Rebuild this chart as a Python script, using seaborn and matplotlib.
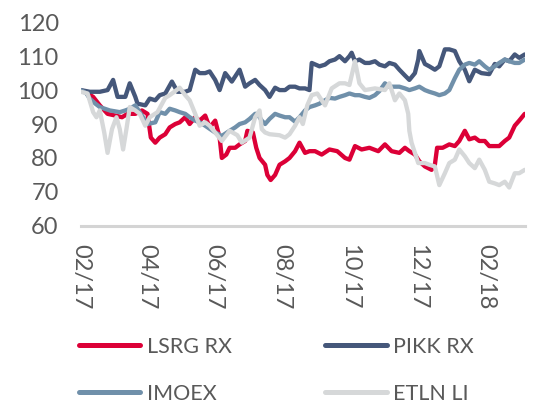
import matplotlib
matplotlib.use("Agg")
import matplotlib.pyplot as plt
import matplotlib.dates as mdates
from matplotlib.lines import Line2D
import seaborn as sns
import pandas as pd

# ---------------- data ----------------
lsrg_dates = ["2017-02-01","2017-02-07","2017-02-12","2017-02-18","2017-02-25","2017-03-04","2017-03-10",
              "2017-03-15","2017-03-22","2017-03-28","2017-04-02","2017-04-05","2017-04-09","2017-04-13",
              "2017-04-18","2017-04-22","2017-04-27","2017-05-01","2017-05-06","2017-05-10","2017-05-15",
              "2017-05-19","2017-05-24","2017-05-28","2017-06-02","2017-06-06","2017-06-08","2017-06-12",
              "2017-06-15","2017-06-20","2017-06-24","2017-06-29","2017-07-01","2017-07-06","2017-07-09",
              "2017-07-12","2017-07-17","2017-07-19","2017-07-22","2017-07-26","2017-07-30","2017-08-04",
              "2017-08-08","2017-08-13","2017-08-17","2017-08-22","2017-08-26","2017-08-31","2017-09-06",
              "2017-09-13","2017-09-20","2017-09-27","2017-10-01","2017-10-06","2017-10-12","2017-10-19",
              "2017-10-27","2017-11-02","2017-11-08","2017-11-15","2017-11-20","2017-11-24","2017-11-29",
              "2017-12-03","2017-12-08","2017-12-14","2017-12-17","2017-12-19","2017-12-24","2017-12-30",
              "2018-01-04","2018-01-08","2018-01-13","2018-01-17","2018-01-22","2018-01-26","2018-01-31",
              "2018-02-04","2018-02-09","2018-02-13","2018-02-18","2018-02-22","2018-02-27","2018-03-03",
              "2018-03-08"]
lsrg_vals = [100,99,98,95.5,93,92.5,92,93,93,94,93,86,84.5,86,87,89,90,90.5,92,90,92,91,92.5,89,91,86,80,81,
             83,83,84,85,88,87.5,83,80,78,75,73.5,75,78,79,80,82,84.5,81.5,82,82,81,82.5,82,80,79.5,83.5,82.5,
             83,82,84,82,81.5,83,82,81,79,77.5,76.5,78,83,83,84,83.5,85,88,85.5,86,85,85,83.5,83.5,83.5,85,86,
             89.5,91,93]

pikk_dates = ["2017-02-01","2017-02-09","2017-02-18","2017-02-25","2017-03-02","2017-03-06","2017-03-13",
              "2017-03-17","2017-03-22","2017-03-24","2017-03-31","2017-04-04","2017-04-09","2017-04-13",
              "2017-04-18","2017-04-24","2017-04-29","2017-05-06","2017-05-10","2017-05-15","2017-05-19",
              "2017-05-24","2017-05-28","2017-06-02","2017-06-06","2017-06-11","2017-06-17","2017-06-24",
              "2017-06-29","2017-07-03","2017-07-08","2017-07-12","2017-07-17","2017-07-21","2017-07-26",
              "2017-07-30","2017-08-04","2017-08-08","2017-08-13","2017-08-17","2017-08-22","2017-08-26",
              "2017-08-28","2017-09-04","2017-09-09","2017-09-13","2017-09-18","2017-09-22","2017-09-27",
              "2017-10-01","2017-10-03","2017-10-06","2017-10-10","2017-10-15","2017-10-19","2017-10-24",
              "2017-10-28","2017-11-02","2017-11-06","2017-11-11","2017-11-15","2017-11-20","2017-11-24",
              "2017-11-29","2017-12-02","2017-12-03","2017-12-08","2017-12-12","2017-12-17","2017-12-21",
              "2017-12-26","2017-12-30","2018-01-04","2018-01-08","2018-01-13","2018-01-17","2018-01-22",
              "2018-01-28","2018-02-04","2018-02-09","2018-02-13","2018-02-18","2018-02-22","2018-02-27",
              "2018-03-03","2018-03-08"]
pikk_vals = [100,99.5,99.5,100,103,98,98,102,98,96,95.5,97.5,97,98.5,99,102.5,99.5,99.5,100,106,105,105,105.5,
             103,100,105,102.5,106,101,102,103,101.5,100,98,100.7,100,100,101,101,100.5,100.5,100,108,107,107.5,
             108.5,109,110,108.5,110,111,108.5,109,108,108,108.5,107.5,107,108,107.5,106,104.3,103,105,109,111.5,
             107.7,107,106,107,112,112,111.5,108.5,106,102.6,106,105,104.7,107.7,107,109,108.5,110.5,109.5,110.5]

imoex_dates = ["2017-02-01","2017-02-06","2017-02-09","2017-02-14","2017-02-18","2017-02-27","2017-03-08",
               "2017-03-13","2017-03-17","2017-03-22","2017-03-26","2017-03-31","2017-04-02","2017-04-09",
               "2017-04-13","2017-04-18","2017-04-22","2017-04-27","2017-05-01","2017-05-06","2017-05-10",
               "2017-05-15","2017-05-19","2017-05-24","2017-05-28","2017-06-02","2017-06-08","2017-06-15",
               "2017-06-20","2017-06-24","2017-06-29","2017-07-03","2017-07-08","2017-07-10","2017-07-14",
               "2017-07-17","2017-07-21","2017-07-26","2017-07-30","2017-08-04","2017-08-08","2017-08-13",
               "2017-08-17","2017-08-22","2017-08-26","2017-08-31","2017-09-04","2017-09-09","2017-09-13",
               "2017-09-18","2017-09-22","2017-09-27","2017-10-01","2017-10-06","2017-10-10","2017-10-15",
               "2017-10-19","2017-10-24","2017-10-28","2017-11-02","2017-11-06","2017-11-11","2017-11-15",
               "2017-11-20","2017-11-24","2017-11-29","2017-12-03","2017-12-08","2017-12-12","2017-12-17",
               "2017-12-21","2017-12-26","2017-12-30","2018-01-04","2018-01-08","2018-01-13","2018-01-17",
               "2018-01-22","2018-01-26","2018-01-31","2018-02-04","2018-02-09","2018-02-13","2018-02-18",
               "2018-02-22","2018-02-27","2018-03-03","2018-03-08"]
imoex_vals = [100,99,97.5,96,95,94,93.5,94,94.5,95.5,93.5,91,90,90.5,93.5,93,94.5,94,93.5,93,92,91,90.5,89.5,
              88.6,87.5,86.5,88,89,90,90.5,91.5,93,93,91,90,91.5,93,92.5,92,92,90.7,92,94,95,95.5,96,97,97.7,
              97.5,98,98.5,99,98.5,98.5,98,97.7,98.5,99.7,102,101,101,101,100.5,100,100.5,101,100,99.5,99,98.5,
              99,100,103.5,106,107.5,108,107.5,108.5,107,106,107,108,109,108.5,108,108,109]

etln_dates = ["2017-02-01","2017-02-07","2017-02-12","2017-02-15","2017-02-18","2017-02-22","2017-02-25",
              "2017-03-01","2017-03-05","2017-03-08","2017-03-11","2017-03-14","2017-03-17","2017-03-22",
              "2017-03-26","2017-03-31","2017-04-04","2017-04-11","2017-04-18","2017-04-22","2017-04-27",
              "2017-05-01","2017-05-06","2017-05-10","2017-05-15","2017-05-19","2017-05-24","2017-05-28",
              "2017-06-02","2017-06-08","2017-06-15","2017-06-22","2017-06-26","2017-07-03","2017-07-08",
              "2017-07-12","2017-07-14","2017-07-17","2017-07-21","2017-07-30","2017-08-04","2017-08-08",
              "2017-08-13","2017-08-17","2017-08-20","2017-08-24","2017-08-28","2017-09-02","2017-09-09",
              "2017-09-15","2017-09-22","2017-09-27","2017-10-01","2017-10-06","2017-10-10","2017-10-15",
              "2017-10-24","2017-11-02","2017-11-06","2017-11-11","2017-11-15","2017-11-20","2017-11-23",
              "2017-11-24","2017-11-26","2017-12-02","2017-12-08","2017-12-12","2017-12-17","2017-12-21",
              "2017-12-26","2017-12-30","2018-01-04","2018-01-08","2018-01-13","2018-01-17","2018-01-22",
              "2018-01-26","2018-01-31","2018-02-04","2018-02-09","2018-02-13","2018-02-18","2018-02-22",
              "2018-02-27","2018-03-03","2018-03-08"]
etln_vals = [99.5,99,93.5,92,94,87.5,81.5,88.5,92,88.5,82.5,88.5,95,94,93,89.5,92,93.5,97.7,98.5,99.7,100.7,
             98.5,97,93,89.5,90.5,89.5,87.5,85,88,86.7,84.5,86,92,94,88.5,87.5,87,86.7,86,87,89.5,92,90,95.5,
             98.5,99,95.5,100.5,102,102,101.5,108.5,102,100,100.5,100,102,97,99,97,93,88,84.5,78.5,78.5,78,
             77.5,72,75.5,78.5,79.5,82.5,80.5,78.5,77,79.5,76.5,73,72.5,72,73,71.3,75.5,75.5,76.5]

series_names = ["LSRG RX", "PIKK RX", "IMOEX", "ETLN LI"]
series_colors = ["#DC0037", "#45577A", "#7090AA", "#D6D8D9"]
y_ticks = [60, 70, 80, 90, 100, 110, 120]
x_ticks = ["2017-02-01", "2017-04-01", "2017-06-01", "2017-08-01",
           "2017-10-01", "2017-12-01", "2018-02-01"]

# ---------------- build long table ----------------
frames = []
for name, d, v in zip(series_names,
                      [lsrg_dates, pikk_dates, imoex_dates, etln_dates],
                      [lsrg_vals, pikk_vals, imoex_vals, etln_vals]):
    frames.append(pd.DataFrame({"date": pd.to_datetime(d), "value": v, "series": name}))
df = pd.concat(frames, ignore_index=True)

# ---------------- style ----------------
sns.set_theme(style="white")
plt.rcParams["font.family"] = ["Lato", "DejaVu Sans"]
text_color = "#595959"

fig = plt.figure(figsize=(5.36, 4.19), dpi=100)
ax = fig.add_axes([0.151, 0.461, 0.828, 0.486])

palette = dict(zip(series_names, series_colors))
sns.lineplot(data=df, x="date", y="value", hue="series", hue_order=series_names,
             palette=palette, linewidth=3.1, ax=ax, legend=False, estimator=None,
             solid_capstyle="round", solid_joinstyle="round")

ax.set_ylim(60, 120)
ax.set_yticks(y_ticks)
ax.set_xlim(pd.Timestamp("2017-02-01"), pd.Timestamp("2018-03-08"))
ax.set_xticks(pd.to_datetime(x_ticks))
ax.xaxis.set_major_formatter(mdates.DateFormatter("%m/%y"))
ax.set_xlabel("")
ax.set_ylabel("")

for s in ["top", "right", "left"]:
    ax.spines[s].set_visible(False)
ax.spines["bottom"].set_color("#D4D4D4")
ax.spines["bottom"].set_linewidth(2.2)

ax.tick_params(axis="y", length=0, pad=16, labelsize=17, labelcolor=text_color)
ax.tick_params(axis="x", direction="out", length=6, width=2, color="#D4D4D4",
               pad=7, labelsize=17, labelcolor=text_color, labelrotation=270)
for lbl in ax.get_xticklabels():
    lbl.set_rotation(270)
    lbl.set_va("top")
    lbl.set_ha("center")

# legend (row-major order: LSRG, PIKK / IMOEX, ETLN)
handles = {n: Line2D([0], [0], color=c, linewidth=3.6, solid_capstyle="round")
           for n, c in zip(series_names, series_colors)}
order = ["LSRG RX", "IMOEX", "PIKK RX", "ETLN LI"]
leg = fig.legend([handles[n] for n in order], order, ncol=2, loc="upper left",
                 bbox_to_anchor=(0.147, 0.196), frameon=False, fontsize=15.5,
                 handlelength=2.85, handletextpad=0.3, columnspacing=4.35,
                 labelspacing=1.24, borderpad=0, borderaxespad=0)
for t in leg.get_texts():
    t.set_color(text_color)

fig.savefig("out.png", dpi=100)
